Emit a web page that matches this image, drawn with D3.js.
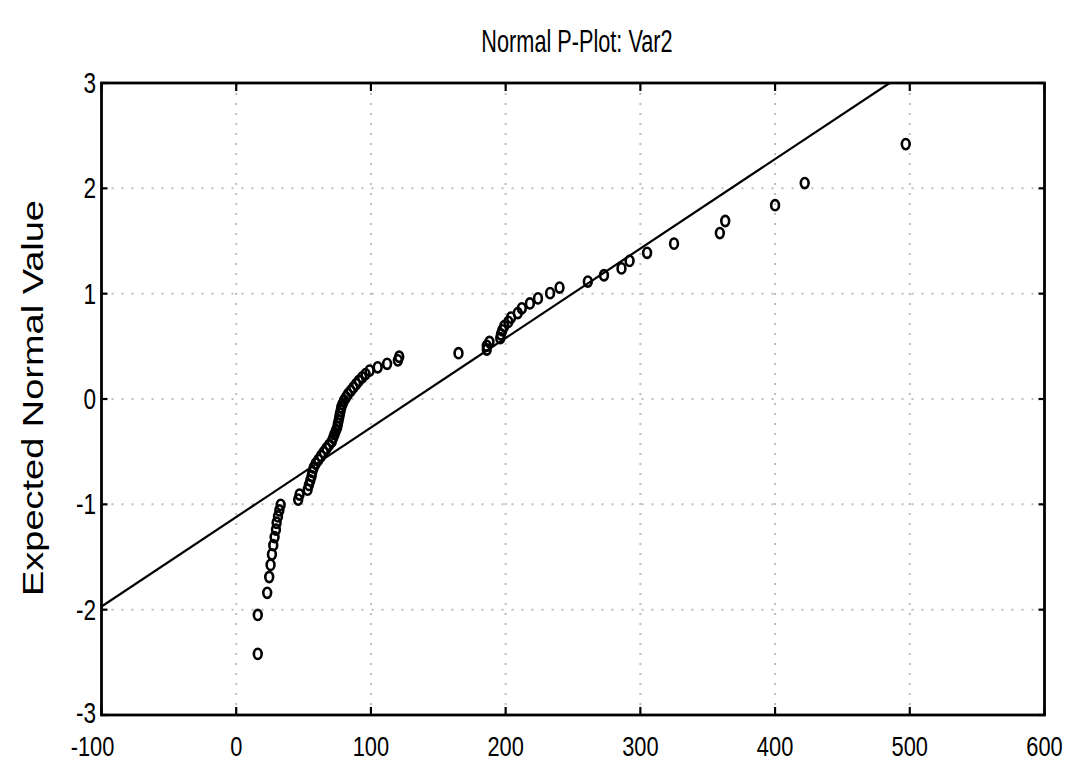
<!DOCTYPE html>
<html>
<head>
<meta charset="utf-8">
<script src="https://cdn.jsdelivr.net/npm/d3@7"></script>
<style>
  html, body { margin: 0; padding: 0; background: #fff; }
  svg { display: block; }
  text { font-family: "Liberation Sans", Arial, sans-serif; fill: #000; }
</style>
</head>
<body>
<svg id="chart" width="1072" height="762"></svg>
<script>
// ---- data ----
const titleText = "Normal P-Plot: Var2";
const yAxisTitle = "Expected Normal Value";
const xTicks = [-100, 0, 100, 200, 300, 400, 500, 600];
const yTicks = [-3, -2, -1, 0, 1, 2, 3];
// observed values (sorted)
const obsValues = [
  16, 16, 23, 24.5, 25.5, 26.5, 27.5, 28.5, 29.5, 30,
  31, 32, 33, 46, 47, 53, 54, 55, 56, 56.5,
  57.5, 59, 61, 63, 65, 67, 69, 71, 72, 73,
  74, 75, 75.5, 76, 76.5, 77, 77.5, 78, 79, 80,
  81.5, 83, 85, 87, 89, 91, 93.5, 96, 99, 105,
  112, 120, 121, 165, 186, 186, 188, 196, 196.5, 197.5,
  199, 202, 204, 209, 212, 218, 224, 233, 240, 261,
  273, 286, 292, 305, 325, 359, 363, 400, 422, 497
];
// expected normal values
const expValues = [
  -2.42, -2.05, -1.84, -1.69, -1.575, -1.475, -1.388, -1.311, -1.24, -1.175,
  -1.115, -1.058, -1.005, -0.955, -0.907, -0.861, -0.816, -0.773, -0.732, -0.692,
  -0.652, -0.614, -0.577, -0.541, -0.505, -0.47, -0.435, -0.401, -0.367, -0.334,
  -0.301, -0.269, -0.237, -0.205, -0.173, -0.141, -0.11, -0.078, -0.047, -0.016,
  0.016, 0.047, 0.078, 0.11, 0.141, 0.173, 0.205, 0.237, 0.269, 0.301,
  0.334, 0.367, 0.401, 0.435, 0.47, 0.505, 0.541, 0.577, 0.614, 0.652,
  0.692, 0.732, 0.773, 0.816, 0.861, 0.907, 0.955, 1.005, 1.058, 1.115,
  1.175, 1.24, 1.311, 1.388, 1.475, 1.575, 1.69, 1.84, 2.05, 2.42
];
// fitted reference line (endpoints in data units)
const fitX = [-100, 485];
const fitY = [-1.97, 3];

// ---- layout ----
const svg = d3.select("#chart");
const L = 101.5, R = 1044.5, T = 83, B = 715;
const x = d3.scaleLinear().domain([-100, 600]).range([L, R]);
const y = d3.scaleLinear().domain([-3, 3]).range([B, T]);

// grid (dotted)
const grid = svg.append("g").attr("stroke", "#bdbdbd").attr("stroke-width", 2)
  .attr("stroke-dasharray", "2,8").attr("fill", "none");
grid.selectAll("line.v").data(xTicks.filter(d => d > -100 && d < 600)).join("line")
  .attr("class", "v").attr("x1", d => x(d)).attr("x2", d => x(d)).attr("y1", T).attr("y2", B);
grid.selectAll("line.h").data(yTicks.filter(d => d > -3 && d < 3)).join("line")
  .attr("class", "h").attr("y1", d => y(d)).attr("y2", d => y(d)).attr("x1", L).attr("x2", R);

// fitted line clipped to plot area
svg.append("clipPath").attr("id", "clip").append("rect")
  .attr("x", L).attr("y", T).attr("width", R - L).attr("height", B - T);
const lineData = fitX.map((v, i) => [v, fitY[i]]);
svg.append("path").datum(lineData)
  .attr("clip-path", "url(#clip)")
  .attr("fill", "none").attr("stroke", "#000").attr("stroke-width", 2.2)
  .attr("d", d3.line().x(d => x(d[0])).y(d => y(d[1])));

// points
const pts = obsValues.map((v, i) => [v, expValues[i]]);
svg.append("g").selectAll("ellipse").data(pts).join("ellipse")
  .attr("cx", d => x(d[0])).attr("cy", d => y(d[1]))
  .attr("rx", 3.9).attr("ry", 5.1)
  .attr("fill", "none").attr("stroke", "#000").attr("stroke-width", 2.6);

// frame
svg.append("rect").attr("x", L).attr("y", T).attr("width", R - L).attr("height", B - T)
  .attr("fill", "none").attr("stroke", "#000").attr("stroke-width", 2.8);

// inward ticks
const tk = svg.append("g").attr("stroke", "#000").attr("stroke-width", 2.2);
xTicks.forEach(d => {
  tk.append("line").attr("x1", x(d)).attr("x2", x(d)).attr("y1", T).attr("y2", T + 8);
  tk.append("line").attr("x1", x(d)).attr("x2", x(d)).attr("y1", B).attr("y2", B - 8);
});
yTicks.forEach(d => {
  tk.append("line").attr("y1", y(d)).attr("y2", y(d)).attr("x1", L).attr("x2", L + 6);
  tk.append("line").attr("y1", y(d)).attr("y2", y(d)).attr("x1", R).attr("x2", R - 6);
});

// tick labels (tall narrow digits)
const sx = 0.78;
svg.append("g").selectAll("text").data(xTicks).join("text")
  .attr("transform", d => `translate(${x(d) + (d < 0 ? -9 : 0)},756) scale(${sx},1)`)
  .attr("text-anchor", "middle").attr("font-size", 28)
  .text(d => d);
svg.append("g").selectAll("text").data(yTicks).join("text")
  .attr("transform", d => `translate(96,${y(d) + (d === -3 ? 8 : 10)}) scale(${sx},1)`)
  .attr("text-anchor", "end").attr("font-size", 29)
  .text(d => d);

// title
svg.append("text")
  .attr("transform", `translate(577,52) scale(0.7,1)`)
  .attr("text-anchor", "middle").attr("font-size", 31)
  .text(titleText);

// y-axis title
svg.append("text")
  .attr("transform", `translate(43,398) rotate(-90)`)
  .attr("text-anchor", "middle").attr("font-size", 29)
  .attr("textLength", 396).attr("lengthAdjust", "spacingAndGlyphs")
  .text(yAxisTitle);
</script>
</body>
</html>
